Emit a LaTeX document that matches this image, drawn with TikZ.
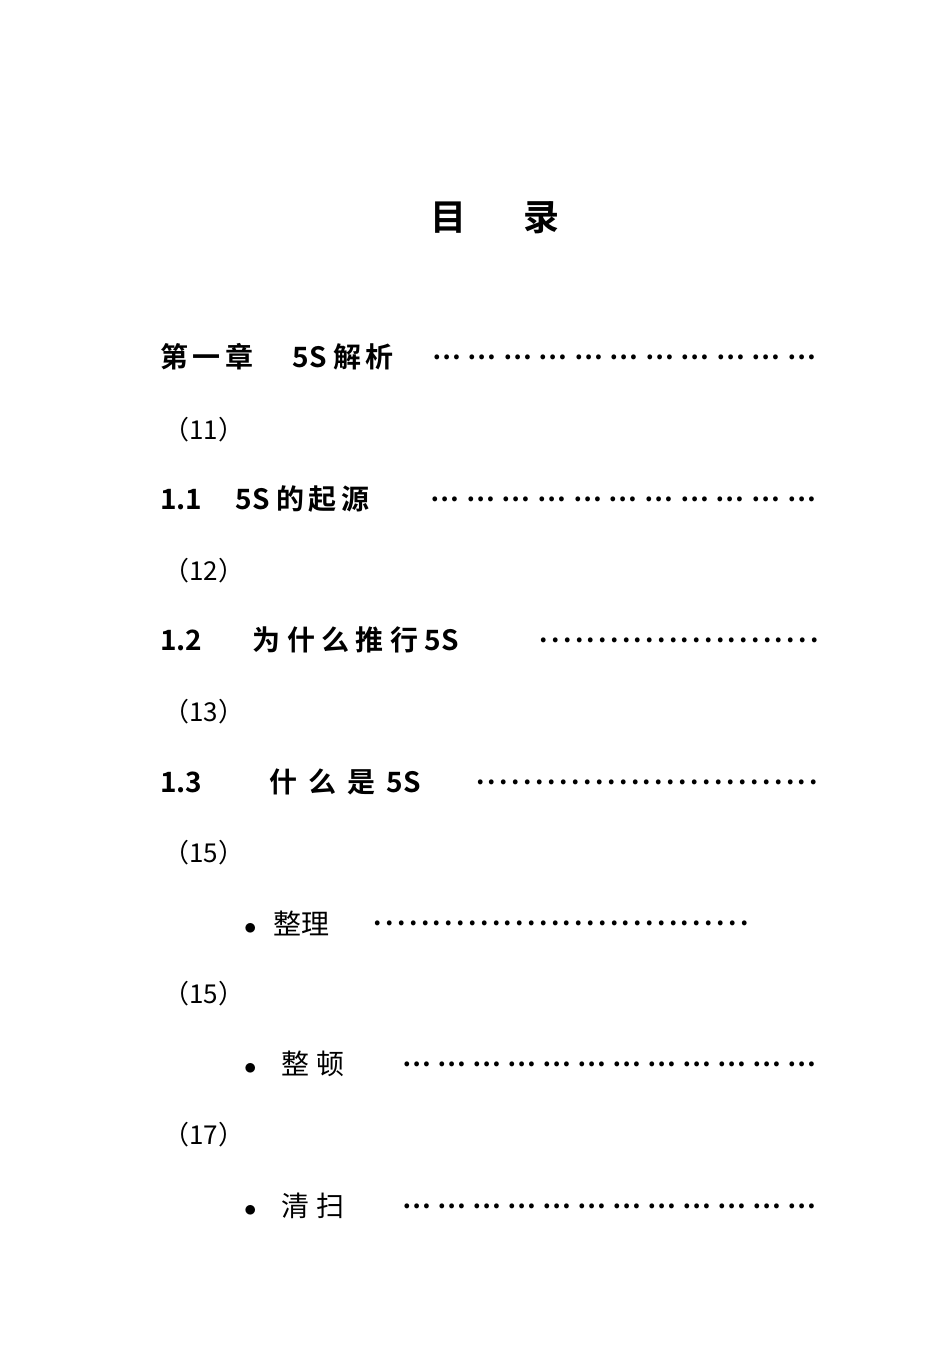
\documentclass[tikz,border=0pt]{standalone}
\usepackage{fontspec}
\setmainfont{Noto Sans CJK SC}
\newfontfamily\cjkb{Noto Sans CJK SC Bold}
\newcommand{\ellfill}[1]{\makebox[#1]{\xleaders\hbox to 1.3em{\hss…\hss}\hfill}}
\newcommand{\dotfil}[1]{\makebox[#1]{\xleaders\hbox to 0.45em{\hss.\hss}\hfill}}
\begin{document}
\begin{tikzpicture}[x=1pt,y=1pt,
  hd/.style={anchor=west,inner sep=0pt,font=\cjkb\fontsize{28}{30}\selectfont},
  pg/.style={anchor=west,inner sep=0pt,font=\fontsize{26}{28}\selectfont},
  bl/.style={anchor=west,inner sep=0pt,font=\fontsize{28}{30}\selectfont},
  dt/.style={anchor=west,inner sep=0pt,font=\cjkb\fontsize{26}{28}\selectfont}]
\useasboundingbox (0,0) rectangle (950,-1348);
\node[inner sep=0pt,font=\cjkb\fontsize{36}{38}\selectfont] (title) at (495,-218) {目\hspace{1.6em}录};
\node[hd] (c1) at (160,-357) {第\,一\,章\hspace{1.4em}5S 解\,析};
\node[dt] (d1) at (428,-357) {\ellfill{392pt}};
\node[pg] (p1) at (163,-430) {（11）};
\node[hd] (s11) at (160,-499) {1.1\hspace{1.2em}5S 的\,起\,源};
\node[dt] (d2) at (426,-499) {\ellfill{394pt}};
\node[pg] (p2) at (163,-571) {（12）};
\node[hd] (s12) at (160,-640) {1.2\hspace{1.8em}为 什 么 推 行 5S};
\node[dt] (d3) at (538,-640) {\dotfil{282pt}};
\node[pg] (p3) at (163,-712) {（13）};
\node[hd] (s13) at (160,-782) {1.3\hspace{2.4em}什 \,么 \,是 \,5S};
\node[dt] (d4) at (474,-782) {\dotfil{346pt}};
\node[pg] (p4) at (163,-853) {（15）};
\node[bl] (b1) at (244,-923) {$\bullet$\hspace{0.6em}整理};
\node[dt] (d5) at (372,-923) {\dotfil{378pt}};
\node[pg] (p5) at (163,-994) {（15）};
\node[bl] (b2) at (244,-1064) {$\bullet$\hspace{0.9em}整 顿};
\node[dt] (d6) at (398,-1064) {\ellfill{422pt}};
\node[pg] (p6) at (163,-1135) {（17）};
\node[bl] (b3) at (244,-1206) {$\bullet$\hspace{0.9em}清 扫};
\node[dt] (d7) at (398,-1206) {\ellfill{422pt}};
\end{tikzpicture}
\end{document}
